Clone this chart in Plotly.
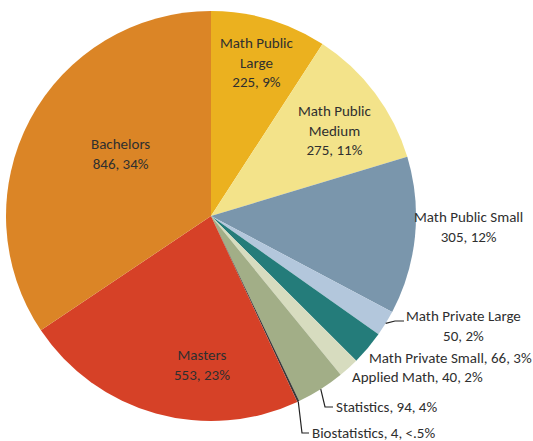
import math
import plotly.graph_objects as go

categories = ["Math Public Large", "Math Public Medium", "Math Public Small",
              "Math Private Large", "Math Private Small", "Applied Math",
              "Statistics", "Biostatistics", "Masters", "Bachelors"]
values = [225, 275, 305, 50, 66, 40, 94, 4, 553, 846]
pct_labels = ["9%", "11%", "12%", "2%", "3%", "2%", "4%", "<.5%", "23%", "34%"]
colors = ["#EBB11F", "#F3E38A", "#7A96AC", "#B3C7DC", "#247C7A",
          "#D7DCBF", "#A2AE87", "#3A3A3A", "#D64127", "#DB8526"]

W, H = 533, 441
CX, CY, R = 211, 216, 205

# label text formatting (line breaks) per category
label_text = {
    "Math Public Large": "Math Public<br>Large<br>{v}, {p}",
    "Math Public Medium": "Math Public<br>Medium<br>{v}, {p}",
    "Math Public Small": "Math Public Small<br>{v}, {p}",
    "Math Private Large": "Math Private Large<br>{v}, {p}",
    "Math Private Small": "Math Private Small, {v}, {p}",
    "Applied Math": "Applied Math, {v}, {p}",
    "Statistics": "Statistics, {v}, {p}",
    "Biostatistics": "Biostatistics, {v}, {p}",
    "Masters": "Masters<br>{v}, {p}",
    "Bachelors": "Bachelors<br>{v}, {p}",
}
# label placement in pixels: (x, y, xanchor)
label_pos = {
    "Math Public Large": (257, 63, "center"),
    "Math Public Medium": (335, 131, "center"),
    "Math Public Small": (469, 227, "center"),
    "Math Private Large": (463, 326, "center"),
    "Math Private Small": (367, 358, "left"),
    "Applied Math": (350, 377, "left"),
    "Statistics": (334, 407, "left"),
    "Biostatistics": (310, 433, "left"),
    "Masters": (202, 365, "center"),
    "Bachelors": (120, 154, "center"),
}
# leader lines: category -> list of bend points (pixels), starting from slice edge
leaders = {
    "Math Private Large": [(395, 321), (404, 321)],
    "Statistics": [(325, 407), (333, 407)],
    "Biostatistics": [(302, 433), (309, 433)],
}

FONT = "Carlito, Calibri, 'Liberation Sans', Arial, sans-serif"

fig = go.Figure(go.Pie(
    labels=categories, values=values, sort=False, direction="clockwise",
    rotation=0, marker=dict(colors=colors, line=dict(width=0)),
    textinfo="none", hoverinfo="label+value+percent", showlegend=False,
    domain=dict(x=[(CX - R) / W, (CX + R) / W], y=[1 - (CY + R) / H, 1 - (CY - R) / H]),
))

total = sum(values)
cum = 0
annotations = []
shapes = []
for cat, v, p in zip(categories, values, pct_labels):
    mid = (cum + v / 2) / total * 2 * math.pi
    cum += v
    x, y, xa = label_pos[cat]
    annotations.append(dict(
        x=x / W, y=1 - y / H, xref="paper", yref="paper", xanchor=xa, yanchor="middle",
        text=label_text[cat].format(v=v, p=p), showarrow=False, align="center",
        font=dict(family=FONT, size=15, color="#2F2F2F"),
    ))
    if cat in leaders:
        ex = CX + R * math.sin(mid)
        ey = CY - R * math.cos(mid)
        pts = [(ex, ey)] + leaders[cat]
        path = "M " + " L ".join(f"{px / W:.5f},{1 - py / H:.5f}" for px, py in pts)
        shapes.append(dict(type="path", path=path, xref="paper", yref="paper",
                           line=dict(color="#222222", width=1.2)))

fig.update_layout(
    width=W, height=H, margin=dict(l=0, r=0, t=0, b=0),
    paper_bgcolor="white", plot_bgcolor="white",
    annotations=annotations, shapes=shapes,
)
fig.write_html("out.html", config={"displayModeBar": False},
               post_script="document.body.style.margin='0';document.body.style.padding='0';")
